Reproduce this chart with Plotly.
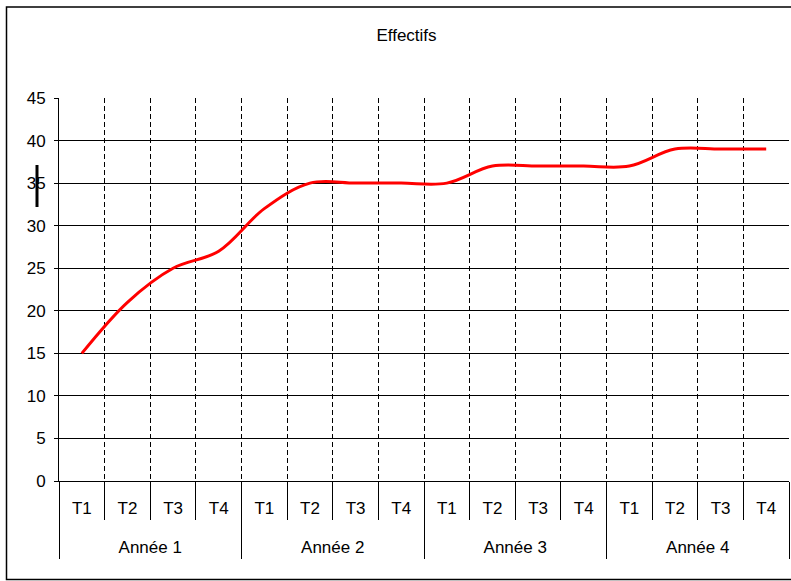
import plotly.graph_objects as go

years = ["Année 1", "Année 2", "Année 3", "Année 4"]
quarters = ["T1", "T2", "T3", "T4"]
effectifs = [15, 21, 25, 27,
             32, 35, 35, 35,
             35, 37, 37, 37,
             37, 39, 39, 39]
y_ticks = [0, 5, 10, 15, 20, 25, 30, 35, 40, 45]

# category keys (year + quarter) and their displayed inner labels
x_keys = [f"{y} – {q}" for y in years for q in quarters]
x_inner = [q for _ in years for q in quarters]
nq = len(quarters)
n = len(x_keys)
year_centers = [i * nq + (nq - 1) / 2 for i in range(len(years))]
year_bounds = [i * nq - 0.5 for i in range(len(years) + 1)]

W, H = 791, 581
L, R, T, B = 59, 2, 98, 100
pw, ph = W - L - R, H - T - B

def px_x(px):
    return (px - L) / pw

def px_y(py):
    return (H - B - py) / ph

FAM = "Liberation Sans, Arial, sans-serif"
font = dict(family=FAM, size=17, color="black")

fig = go.Figure()
fig.add_trace(go.Scatter(
    x=x_keys, y=effectifs, mode="lines",
    line=dict(color="#ff0000", width=3, shape="spline", smoothing=1.0),
    showlegend=False, hoverinfo="y"))
# invisible companion trace so the year axis is drawn
fig.add_trace(go.Scatter(
    x=list(range(n)), y=effectifs, xaxis="x2", mode="lines",
    line=dict(width=0), opacity=0, showlegend=False, hoverinfo="skip"))

fig.update_layout(
    width=W, height=H,
    margin=dict(l=L, r=R, t=T, b=B, pad=0),
    paper_bgcolor="white", plot_bgcolor="white",
    font=font,
    title=dict(text="Effectifs", x=406.5 / W, xanchor="center", xref="container",
               y=1 - 35 / H, yanchor="middle", yref="container",
               font=dict(family=FAM, size=17, color="black")),
    xaxis=dict(
        type="category", tickson="boundaries", range=[-0.5, n - 0.5],
        tickmode="array", tickvals=x_keys, ticktext=x_inner,
        showgrid=True, gridcolor="black", gridwidth=1, griddash="5px,3px",
        showline=True, linecolor="black", linewidth=1,
        ticks="outside", ticklen=38, tickcolor="black", tickwidth=1,
        ticklabelstandoff=12,
        tickfont=font, zeroline=False,
    ),
    xaxis2=dict(
        type="linear", overlaying="x", anchor="y", side="bottom",
        range=[-0.5, n - 0.5],
        tickmode="array", tickvals=year_centers, ticktext=years,
        ticks="", showgrid=False, showline=False, zeroline=False,
        ticklabelstandoff=54,
        minor=dict(tickmode="array", tickvals=year_bounds, ticks="outside",
                   ticklen=77, tickcolor="black", tickwidth=1, showgrid=False),
        tickfont=font,
    ),
    yaxis=dict(
        range=[0, 45], tickvals=y_ticks, ticktext=[str(v) for v in y_ticks],
        showgrid=True, gridcolor="black", gridwidth=1,
        showline=True, linecolor="black", linewidth=1,
        ticks="outside", ticklen=4, tickcolor="black",
        ticklabelstandoff=5,
        zeroline=True, zerolinecolor="black", zerolinewidth=1,
        tickfont=font,
    ),
)

# outer chart frame
fig.add_shape(type="rect", xref="paper", yref="paper",
              x0=px_x(6.5), x1=px_x(800), y0=px_y(579.5), y1=px_y(7),
              line=dict(color="black", width=1.5), layer="above")
# rendering artefact near "35"
fig.add_shape(type="line", xref="paper", yref="paper",
              x0=px_x(37), x1=px_x(37), y0=px_y(165), y1=px_y(207),
              line=dict(color="black", width=3), layer="above")

fig.write_html("out.html", config={"displayModeBar": False},
               post_script="document.body.style.margin='0px';")
